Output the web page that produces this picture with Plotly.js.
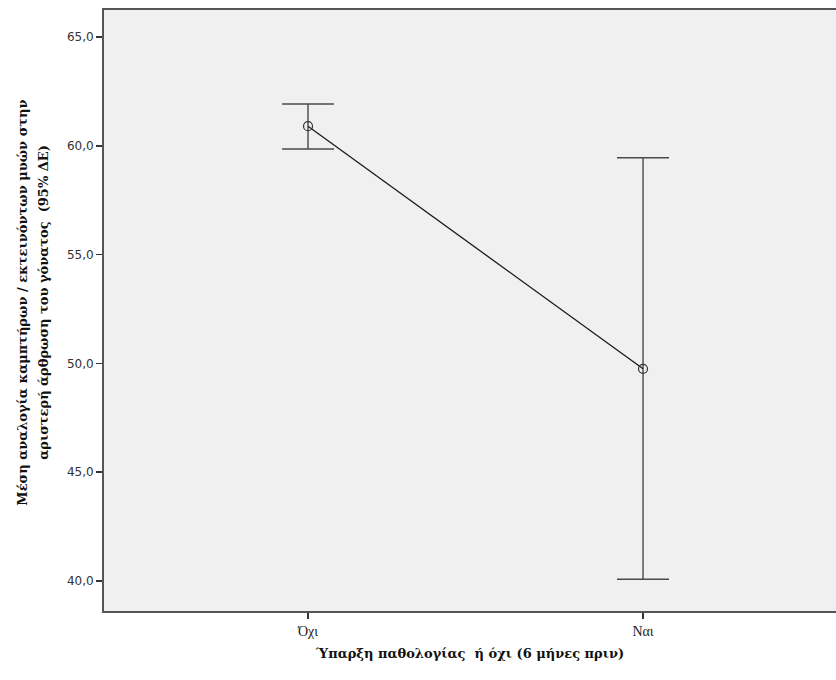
<!DOCTYPE html>
<html><head><meta charset="utf-8">
<script src="https://cdn.plot.ly/plotly-3.0.1.min.js"></script>
<style>body{margin:0;background:#fff}</style>
</head><body>
<div id="chart" style="width:836px;height:680px"></div>
<script>
const categories = ["Όχι", "Ναι"];
const means = [60.9, 49.75];
const upperCI = [61.92, 59.45];
const lowerCI = [59.85, 40.08];
const yTickVals = [40, 45, 50, 55, 60, 65];
const yTickText = ["40,0", "45,0", "50,0", "55,0", "60,0", "65,0"];
const xTitle = "Ύπαρξη παθολογίας  ή όχι (6 μήνες πριν)";
const yTitleLines = ["Μέση αναλογία καμπτήρων / εκτεινόντων μυών στην",
                     "αριστερή άρθρωση του γόνατος  (95% ΔΕ)"];

const errPlus = means.map((m, i) => upperCI[i] - m);
const errMinus = means.map((m, i) => m - lowerCI[i]);
const xIdx = categories.map((c, i) => i);

const trace = {
  x: xIdx, y: means, type: 'scatter', mode: 'lines+markers',
  line: {color: '#1a1a1a', width: 1.3},
  marker: {symbol: 'circle-open', size: 9, color: '#333', line: {width: 1.2, color: '#333'}},
  error_y: {type: 'data', symmetric: false, array: errPlus, arrayminus: errMinus,
            color: '#4a4a4a', thickness: 1.4, width: 26},
  hoverinfo: 'none', showlegend: false
};

const titleFont = {family: 'DejaVu Serif, serif', size: 13, color: '#111'};
const annotations = yTitleLines.map((t, i) => ({
  text: '<b>' + t + '</b>', textangle: -90,
  xref: 'paper', yref: 'paper', x: 0, y: 0.513,
  xanchor: 'center', yanchor: 'middle',
  xshift: i === 0 ? -81 : -60,
  showarrow: false, font: titleFont
}));

const layout = {
  width: 836, height: 680,
  margin: {l: 104, r: 0, t: 10, b: 69},
  paper_bgcolor: '#ffffff', plot_bgcolor: '#f0f0f0',
  xaxis: {
    range: [-0.609, 1.576], tickvals: xIdx, ticktext: categories,
    showgrid: false, zeroline: false, showline: true, mirror: true,
    linecolor: '#555', linewidth: 2, ticks: 'outside', ticklen: 6, tickcolor: '#333', tickwidth: 1.5,
    tickfont: {family: 'Liberation Serif, serif', size: 14, color: '#222'},
    title: {text: '<b>' + xTitle + '</b>', standoff: 11, font: titleFont}
  },
  yaxis: {
    range: [38.62, 66.24], tickvals: yTickVals, ticktext: yTickText,
    showgrid: false, zeroline: false, showline: true, mirror: false,
    linecolor: '#555', linewidth: 2, ticks: 'outside', ticklen: 6, tickcolor: '#333', tickwidth: 1.5,
    tickfont: {family: 'DejaVu Sans, sans-serif', size: 12, color: '#333'}
  },
  annotations: annotations
};

Plotly.newPlot('chart', [trace], layout, {displayModeBar: false, staticPlot: true});
</script>
</body></html>
